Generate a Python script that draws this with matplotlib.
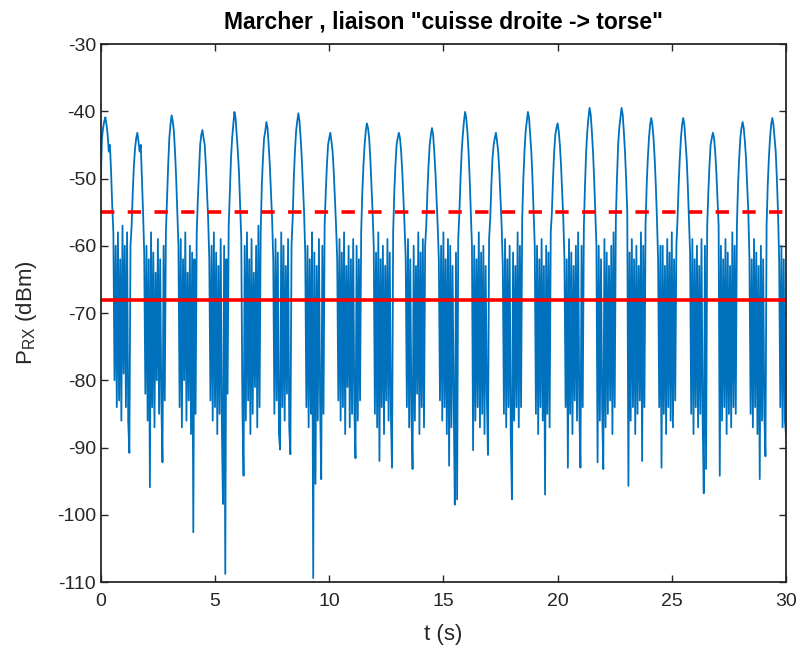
import matplotlib
matplotlib.use('Agg')
import matplotlib.pyplot as plt
from matplotlib import font_manager
import numpy as np

# Received power samples (dBm), one every 0.05 s
dt = 0.05
prx = [
    -50, -44, -42.5, -41.5, -40.9, -42, -43.5, -46, -45, -49,
    -54, -58, -80, -60, -84, -58, -83, -62, -86, -57,
    -79, -60, -84, -58, -86, -90.8, -60,
    -57, -52, -48, -45.5, -44, -43.2, -44.5, -46, -45, -50, -55,
    -61, -82, -60, -86, -62, -95.9, -58, -84, -61, -87, -64, -80,
    -59, -85, -62, -83, -92.2, -60, -83,
    -58, -53, -48, -44, -42, -40.6, -41.5, -43, -46, -50, -55,
    -60, -84, -59, -87, -62, -80, -58, -86, -64, -83, -60, -88, -61, -102.6, -62, -85,
    -58, -53, -49, -45, -43.5, -42.8, -44, -45, -48, -52, -56,
    -62, -83, -60, -86, -58, -84, -61, -88, -63, -85, -59, -87, -98.4, -60, -108.8, -62, -82,
    -57, -52, -47, -44, -42, -40.1, -41, -43.5, -46, -49, -54,
    -59, -84, -94.2, -60, -86, -58, -83, -62, -88, -59, -85, -64, -81, -60, -87, -57, -84,
    -58, -51, -47, -44, -43, -41.6, -42.5, -45, -48, -52, -56,
    -62, -85, -59, -83, -61, -88, -90.3, -58, -84, -60, -86, -63, -82, -59, -87, -91, -60,
    -56, -50, -46, -43, -41.5, -40.3, -41.5, -44, -47, -51, -55,
    -61, -84, -60, -87, -62, -85, -58, -109.4, -61, -95.4, -63, -86, -59, -83, -94.7, -60, -85,
    -57, -52, -48, -45, -44, -43.2, -44.5, -46, -49, -53, -57,
    -62, -83, -59, -86, -61, -84, -58, -88, -63, -81, -60, -87, -62, -85, -59, -84, -91.6, -60, -86, -62, -83,
    -58, -52, -48, -45, -43, -41.8, -42.5, -44, -47, -51, -55,
    -60, -85, -61, -87, -58, -92, -62, -84, -60, -88, -63, -83, -59, -86, -61, -85, -93,
    -58, -52, -48, -45, -44, -43.2, -44, -46, -49, -53, -57,
    -62, -84, -59, -87, -62, -85, -93.2, -60, -86, -63, -82, -58, -88, -61, -84, -59, -87, -60,
    -57, -52, -48, -45, -43.5, -42.5, -43.5, -46, -49, -53, -57,
    -62, -83, -60, -86, -58, -84, -62, -88, -59, -92.7, -60, -87, -63, -83, -98.5, -61, -97.7, -59,
    -55, -50, -46, -43.5, -41.5, -40.1, -41, -43, -46, -50, -55,
    -60, -90.4, -60, -86, -62, -84, -58, -87, -61, -85, -60, -88, -63, -82, -91.1, -59,
    -56, -51, -47, -45, -44, -43.2, -44.5, -46, -49, -53, -57,
    -63, -85, -59, -87, -62, -84, -60, -88, -97.7, -61, -86, -63, -84, -58, -87, -60, -84,
    -56, -50, -46, -43, -41.5, -40.1, -41, -43.5, -46, -50, -55,
    -60, -85, -60, -88, -62, -84, -59, -86, -63, -97, -60, -85, -61, -87, -58,
    -55, -50, -46, -43.5, -42.5, -41.8, -43, -45, -48, -52, -56,
    -62, -84, -62, -93, -59, -85, -61, -88, -63, -83, -60, -86, -58, -84, -93, -60, -84,
    -57, -51, -46, -43, -41, -39.5, -40.5, -43, -46, -50, -55,
    -60, -92.2, -60, -86, -62, -84, -93.2, -59, -87, -61, -85, -63, -83, -60, -88, -58, -84,
    -56, -50, -45, -42.5, -41, -39.5, -40.5, -43, -46, -50, -55,
    -95.7, -61, -86, -59, -84, -62, -88, -60, -85, -63, -83, -58, -92, -60, -84,
    -57, -51, -47, -44, -42, -41, -42, -44, -47, -51, -56,
    -62, -84, -60, -93, -60, -85, -63, -88, -59, -84, -61, -86, -58, -87, -62, -83, -60,
    -56, -51, -47, -44, -42, -41, -42, -44.5, -47, -51, -56,
    -61, -85, -59, -88, -62, -84, -60, -87, -63, -85, -59, -86, -96.8, -60, -93.2,
    -57, -52, -48, -45, -44, -43.2, -44, -46, -49, -53, -57,
    -94.2, -60, -86, -62, -84, -59, -88, -61, -85, -63, -87, -58, -84, -60, -85,
    -57, -51, -47, -44, -42.5, -41.6, -42.5, -44.5, -47, -51, -55,
    -62, -85, -62, -87, -59, -84, -61, -88, -63, -94.7, -60, -86, -62, -85, -91.3,
    -57, -51, -47, -44, -42, -41, -42, -44, -46, -50, -55,
    -62, -84, -60, -87, -62, -86, -88,
]
t = np.arange(len(prx)) * dt

upper_threshold = -55   # dashed red line
lower_threshold = -68   # solid red line

xticks = [0, 5, 10, 15, 20, 25, 30]
yticks = [-110, -100, -90, -80, -70, -60, -50, -40, -30]

plt.rcParams['font.family'] = ['Liberation Sans', 'DejaVu Sans']
plt.rcParams['axes.unicode_minus'] = False
plt.rcParams['path.simplify'] = False

names = {f.name for f in font_manager.fontManager.ttflist}
if 'Liberation Sans Narrow' in names:
    title_font = dict(family=['Liberation Sans Narrow', 'DejaVu Sans'], fontsize=19)
else:
    title_font = dict(family=['Liberation Sans', 'DejaVu Sans'], fontsize=16.5)

fig = plt.figure(figsize=(8, 6.53), dpi=100)
ax = fig.add_axes([0.126, 0.1087, 0.8565, 0.8239])

ax.plot(t, prx, color='#0072BD', lw=1.3)
ax.axhline(upper_threshold, color='#FF0000', lw=2.6, dashes=(3.7, 3.7))
ax.axhline(lower_threshold, color='#FF0000', lw=2.6)

ax.set_xlim(0, 30)
ax.set_ylim(-110, -30)
ax.set_xticks(xticks)
ax.set_yticks(yticks)

dark = '#262626'
ax.tick_params(direction='in', top=True, right=True, length=5, width=1,
               colors=dark, labelsize=14, labelcolor=dark)
ax.tick_params(axis='x', pad=8)
for s in ax.spines.values():
    s.set_linewidth(1.3)
    s.set_color(dark)

ax.set_title('Marcher , liaison "cuisse droite -> torse"', fontweight='bold',
             pad=11, **title_font)
ax.set_xlabel('t (s)', fontsize=16, color=dark, labelpad=10)
ax.set_ylabel(r'P$_{\mathregular{RX}}$ (dBm)', fontsize=16, color=dark, labelpad=13)

fig.savefig('out.png', dpi=100)
